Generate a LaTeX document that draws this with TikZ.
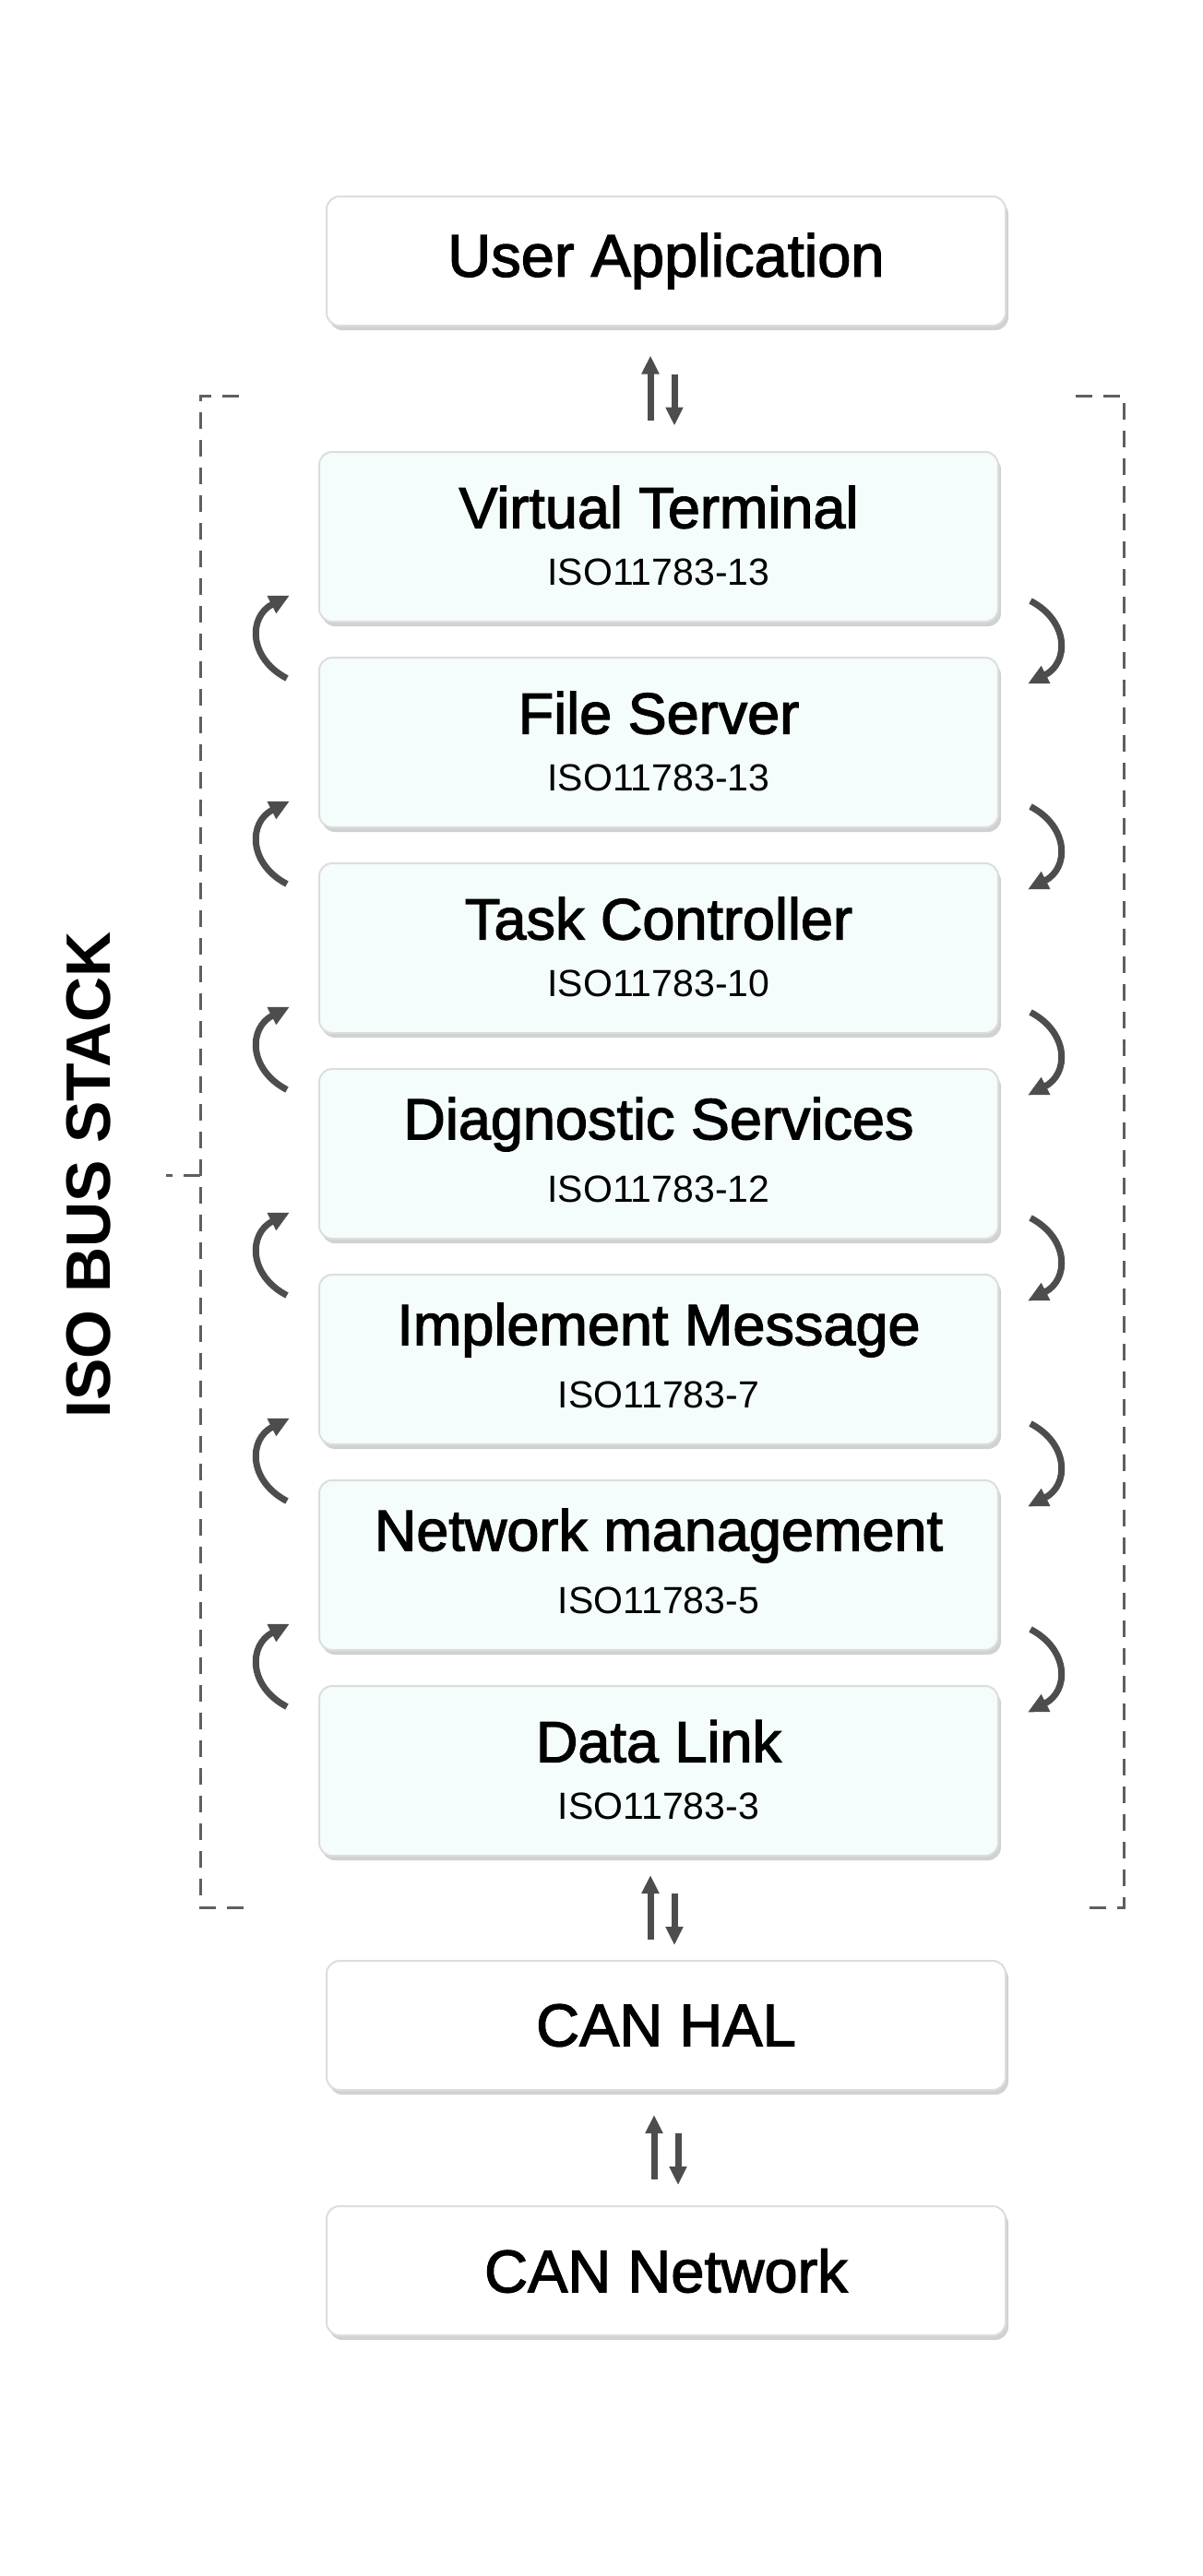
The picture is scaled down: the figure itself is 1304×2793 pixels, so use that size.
\documentclass[tikz,border=0pt]{standalone}
\usepackage{fontspec}
\setmainfont{Liberation Sans}
\newfontfamily\medfont[FakeBold=2]{Liberation Sans}
\usetikzlibrary{shadows,arrows.meta}
\definecolor{stackfill}{HTML}{F4FCFC}
\definecolor{boxline}{HTML}{DDDDDD}
\definecolor{arr}{HTML}{4D4D4D}
\begin{document}
\begin{tikzpicture}[x=1pt,y=-1pt,
  wbox/.style={draw=boxline,line width=2pt,fill=white,rounded corners=14pt,minimum width=736pt,minimum height=140pt,
    drop shadow={shadow xshift=3pt,shadow yshift=-5pt,fill=black,opacity=0.18},font=\medfont\fontsize{65}{70}\selectfont},
  sbox/.style={draw=boxline,line width=2pt,fill=stackfill,rounded corners=14pt,minimum width=736pt,minimum height=184pt,
    drop shadow={shadow xshift=3pt,shadow yshift=-5pt,fill=black,opacity=0.18}},
  ttl/.style={font=\medfont\fontsize{63}{70}\selectfont,inner sep=0pt},
  sub/.style={font=\fontsize{41}{44}\selectfont,inner sep=0pt},
  tip/.style={-{Triangle[length=20pt,width=18pt]},arr,line width=7pt},
  curv/.style={-{Triangle[length=22pt,width=20pt]},arr,line width=7pt},
  brk/.style={dashed,dash pattern=on 18pt off 12pt,draw=arr!90,line width=3pt}]
\useasboundingbox (0,0) rectangle (1304,2793);
\node[wbox] (ua) at (722,283) {User Application};
\foreach \i/\t/\s in {0/Virtual Terminal/ISO11783-13,1/File Server/ISO11783-13,2/Task Controller/ISO11783-10,3/Diagnostic Services/ISO11783-12,4/Implement Message/ISO11783-7,5/Network management/ISO11783-5,6/Data Link/ISO11783-3}{
  \node[sbox] (b\i) at (714,582+223*\i) {};
  \node[ttl] (t\i) at ([yshift=32pt]b\i.center) {\t};
  \node[sub] (s\i) at ([yshift=-38pt]b\i.center) {\s};
}
\node[wbox] (hal) at (722,2196) {CAN HAL};
\node[wbox] (net) at (722,2462) {CAN Network};
% double arrows
\foreach \a/\b in {ua/b0,b6/hal,hal/net}{
  \path (\a.south) -- (\b.north) coordinate[pos=0.5] (m\a);
  \draw[tip] ([xshift=-13pt,yshift=-34pt]m\a) -- ([xshift=-13pt,yshift=36pt]m\a);
  \draw[tip] ([xshift=13pt,yshift=16pt]m\a) -- ([xshift=13pt,yshift=-40pt]m\a);
}
% curved arrows
\foreach \i [evaluate=\i as \j using int(\i+1)] in {0,...,5}{
  \path (b\i.south) -- (b\j.north) coordinate[pos=0.5] (c\i);
  \draw[curv] ([xshift=-403pt,yshift=-42pt]c\i) .. controls ([xshift=-445pt,yshift=-20pt]c\i) and ([xshift=-445pt,yshift=25pt]c\i) .. ([xshift=-400pt,yshift=48pt]c\i);
  \draw[curv] ([xshift=403pt,yshift=42pt]c\i) .. controls ([xshift=445pt,yshift=20pt]c\i) and ([xshift=445pt,yshift=-25pt]c\i) .. ([xshift=400pt,yshift=-48pt]c\i);
}
% bracket
\coordinate (l1) at (259,429); \coordinate (l0) at (217,429);
\coordinate (l2) at (217,2068); \coordinate (l3) at (271,2068);
\coordinate (r1) at (1166,429); \coordinate (r0) at (1218,429);
\coordinate (r2) at (1218,2068); \coordinate (r3) at (1176,2068);
\draw[brk] (l1) -- (l0) -- (l2) -- (l3);
\draw[brk] (r1) -- (r0) -- (r2) -- (r3);
\coordinate (lm) at (217,1274); \coordinate (lt) at (180,1274);
\draw[brk] (lm) -- (lt);
\node[rotate=90,font=\bfseries\fontsize{68}{72}\selectfont] (lab) at (96,1274) {ISO BUS STACK};
\end{tikzpicture}
\end{document}
